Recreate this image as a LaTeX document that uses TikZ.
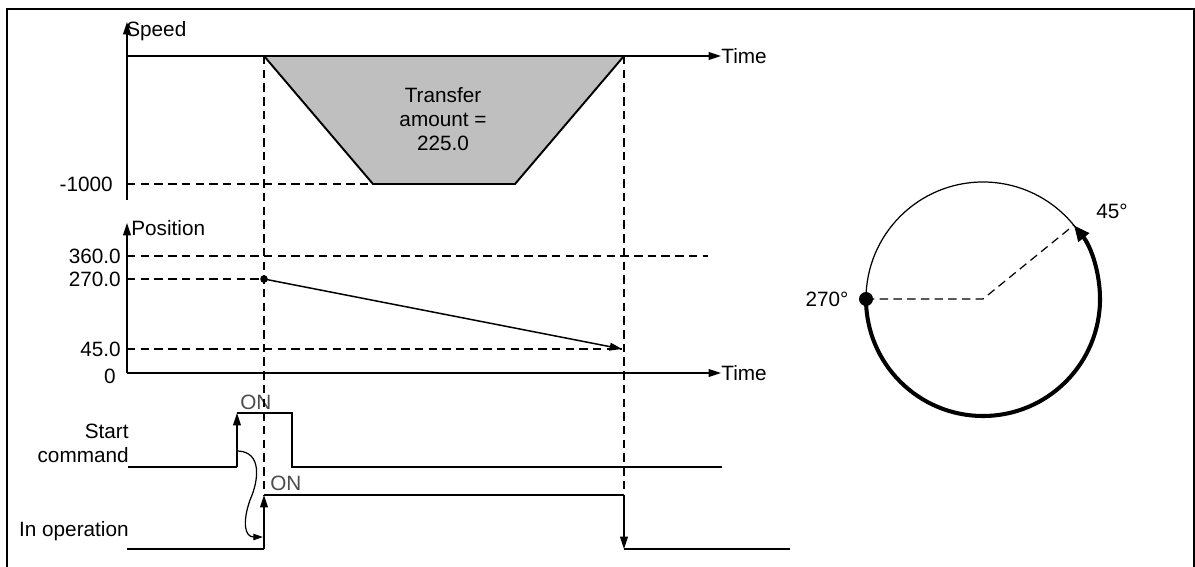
\documentclass[tikz,border=0pt]{standalone}
\usepackage{fontspec}
\setmainfont{Liberation Sans}
\usetikzlibrary{arrows.meta}

\begin{document}
\begin{tikzpicture}[x=0.02cm, y=-0.02cm, font=\fontsize{11.8}{13.6}\selectfont]
% Define styles
\tikzstyle{axis}=[-{Triangle[length=7pt,width=4.4pt]}, line width=0.85pt]
\tikzstyle{edge}=[-{Triangle[length=7pt,width=4.4pt]}, line width=0.85pt]
\tikzstyle{guide}=[dash pattern=on 4.8pt off 3pt, line width=0.7pt]
\tikzstyle{wave}=[line width=0.85pt]
\tikzstyle{tickLabel}=[anchor=east, inner sep=0pt]
\tikzstyle{axisLabel}=[anchor=west, inner sep=0pt]
\tikzstyle{onLabel}=[anchor=west, inner sep=0pt, text=black!70]

\clip (0,0) rectangle (1195,567);

% Draw frame
\draw[line width=1pt] (7,580) -- (7,9) -- (1194,9) -- (1194,580);

% Draw speed graph
\coordinate (speedBase) at (127,200);
\coordinate (speedTop) at (127,22);
\coordinate (speedZero) at (127,56);
\coordinate (speedLow) at (127,184);
\coordinate (accStart) at (264,56);
\coordinate (accEnd) at (373,184);
\coordinate (decStart) at (515,184);
\coordinate (decEnd) at (624,56);
\fill[black!25] (accStart) -- (accEnd) -- (decStart) -- (decEnd) -- cycle;
\node[axisLabel] (speedLabel) at (126,31) {Speed};
\node[axisLabel] (speedTime) at (721,56) {Time};
\node[tickLabel] (speedMin) at (113,184) {-1000};
\node[align=center] (transfer) at (443,119) {Transfer\\amount =\\225.0};
\draw[axis] (speedBase) -- (speedTop);
\draw[axis] (speedZero) -- (speedTime.west);
\draw[line width=1.1pt] (accStart) -- (accEnd) -- (decStart) -- (decEnd);
\draw[guide] (speedLow) -- (accEnd);

% Draw position graph
\coordinate (posZero) at (127,373);
\coordinate (posTop) at (127,223);
\coordinate (posStart) at (264,279);
\coordinate (posEnd) at (622,349);
\coordinate (fullEnd) at (708,256);
\node[axisLabel] (posLabel) at (131,228) {Position};
\node[axisLabel] (posTime) at (721,373) {Time};
\node[tickLabel] (pos360) at (121,256) {360.0};
\node[tickLabel] (pos270) at (121,279) {270.0};
\node[tickLabel] (pos45) at (121,349) {45.0};
\node[tickLabel] (pos0) at (116,376) {0};
\draw[axis] (posZero) -- (posTop);
\draw[axis] (posZero) -- (posTime.west);
\draw[guide] (127,256) -- (fullEnd);
\draw[guide] (127,279) -- (posStart);
\draw[guide] (127,349) -- (posEnd);
\fill (posStart) circle[radius=3.8];
\draw[edge] (posStart) -- (posEnd);

% Draw signals
\coordinate (cmdLow) at (128,467);
\coordinate (cmdRise) at (237,467);
\coordinate (cmdOn) at (237,413);
\coordinate (cmdOff) at (292,413);
\coordinate (cmdFall) at (292,467);
\coordinate (cmdEnd) at (722,467);
\coordinate (runLow) at (127,549);
\coordinate (runRise) at (264,549);
\coordinate (runOn) at (264,495);
\coordinate (runOff) at (624,495);
\coordinate (runFall) at (624,549);
\coordinate (runEnd) at (790,549);
\node[tickLabel, align=right] (cmdLabel) at (129,443) {Start\\command};
\node[tickLabel] (runLabel) at (129,531) {In operation};
\node[onLabel] (cmdOnLabel) at (240,402) {ON};
\node[onLabel] (runOnLabel) at (270,483) {ON};
\draw[guide] (accStart) -- (runOn);
\draw[guide] (decEnd) -- (runOff);
\draw[wave] (cmdLow) -- (cmdRise);
\draw[edge] (cmdRise) -- (cmdOn);
\draw[wave] (cmdOn) -- (cmdOff) -- (cmdFall) -- (cmdEnd);
\draw[wave] (runLow) -- (runRise);
\draw[edge] (runRise) -- (runOn);
\draw[wave] (runOn) -- (runOff);
\draw[edge] (runOff) -- (runFall);
\draw[wave] (runFall) -- (runEnd);
\draw[-{Triangle[length=5.5pt,width=3.6pt]}, line width=0.7pt] (238,451) .. controls (262,452) and (259,480) .. (250,500) .. controls (242,523) and (245,537) .. (263,537);

% Draw rotation circle
\coordinate (center) at (983,299);
\coordinate (angle270) at (866,299);
\coordinate (angle45) at (1074,225);
\draw[line width=0.7pt] (center) circle[radius=117];
\draw[line width=2.3pt, -{Triangle[length=9pt,width=7.5pt]}] (angle270) arc[start angle=180, end angle=-39, radius=117];
\draw[guide] (angle270) -- (center) -- (angle45);
\fill (angle270) circle[radius=7];
\node (label270) at (827,299) {270°};
\node (label45) at (1112,211) {45°};
\end{tikzpicture}
\end{document}
